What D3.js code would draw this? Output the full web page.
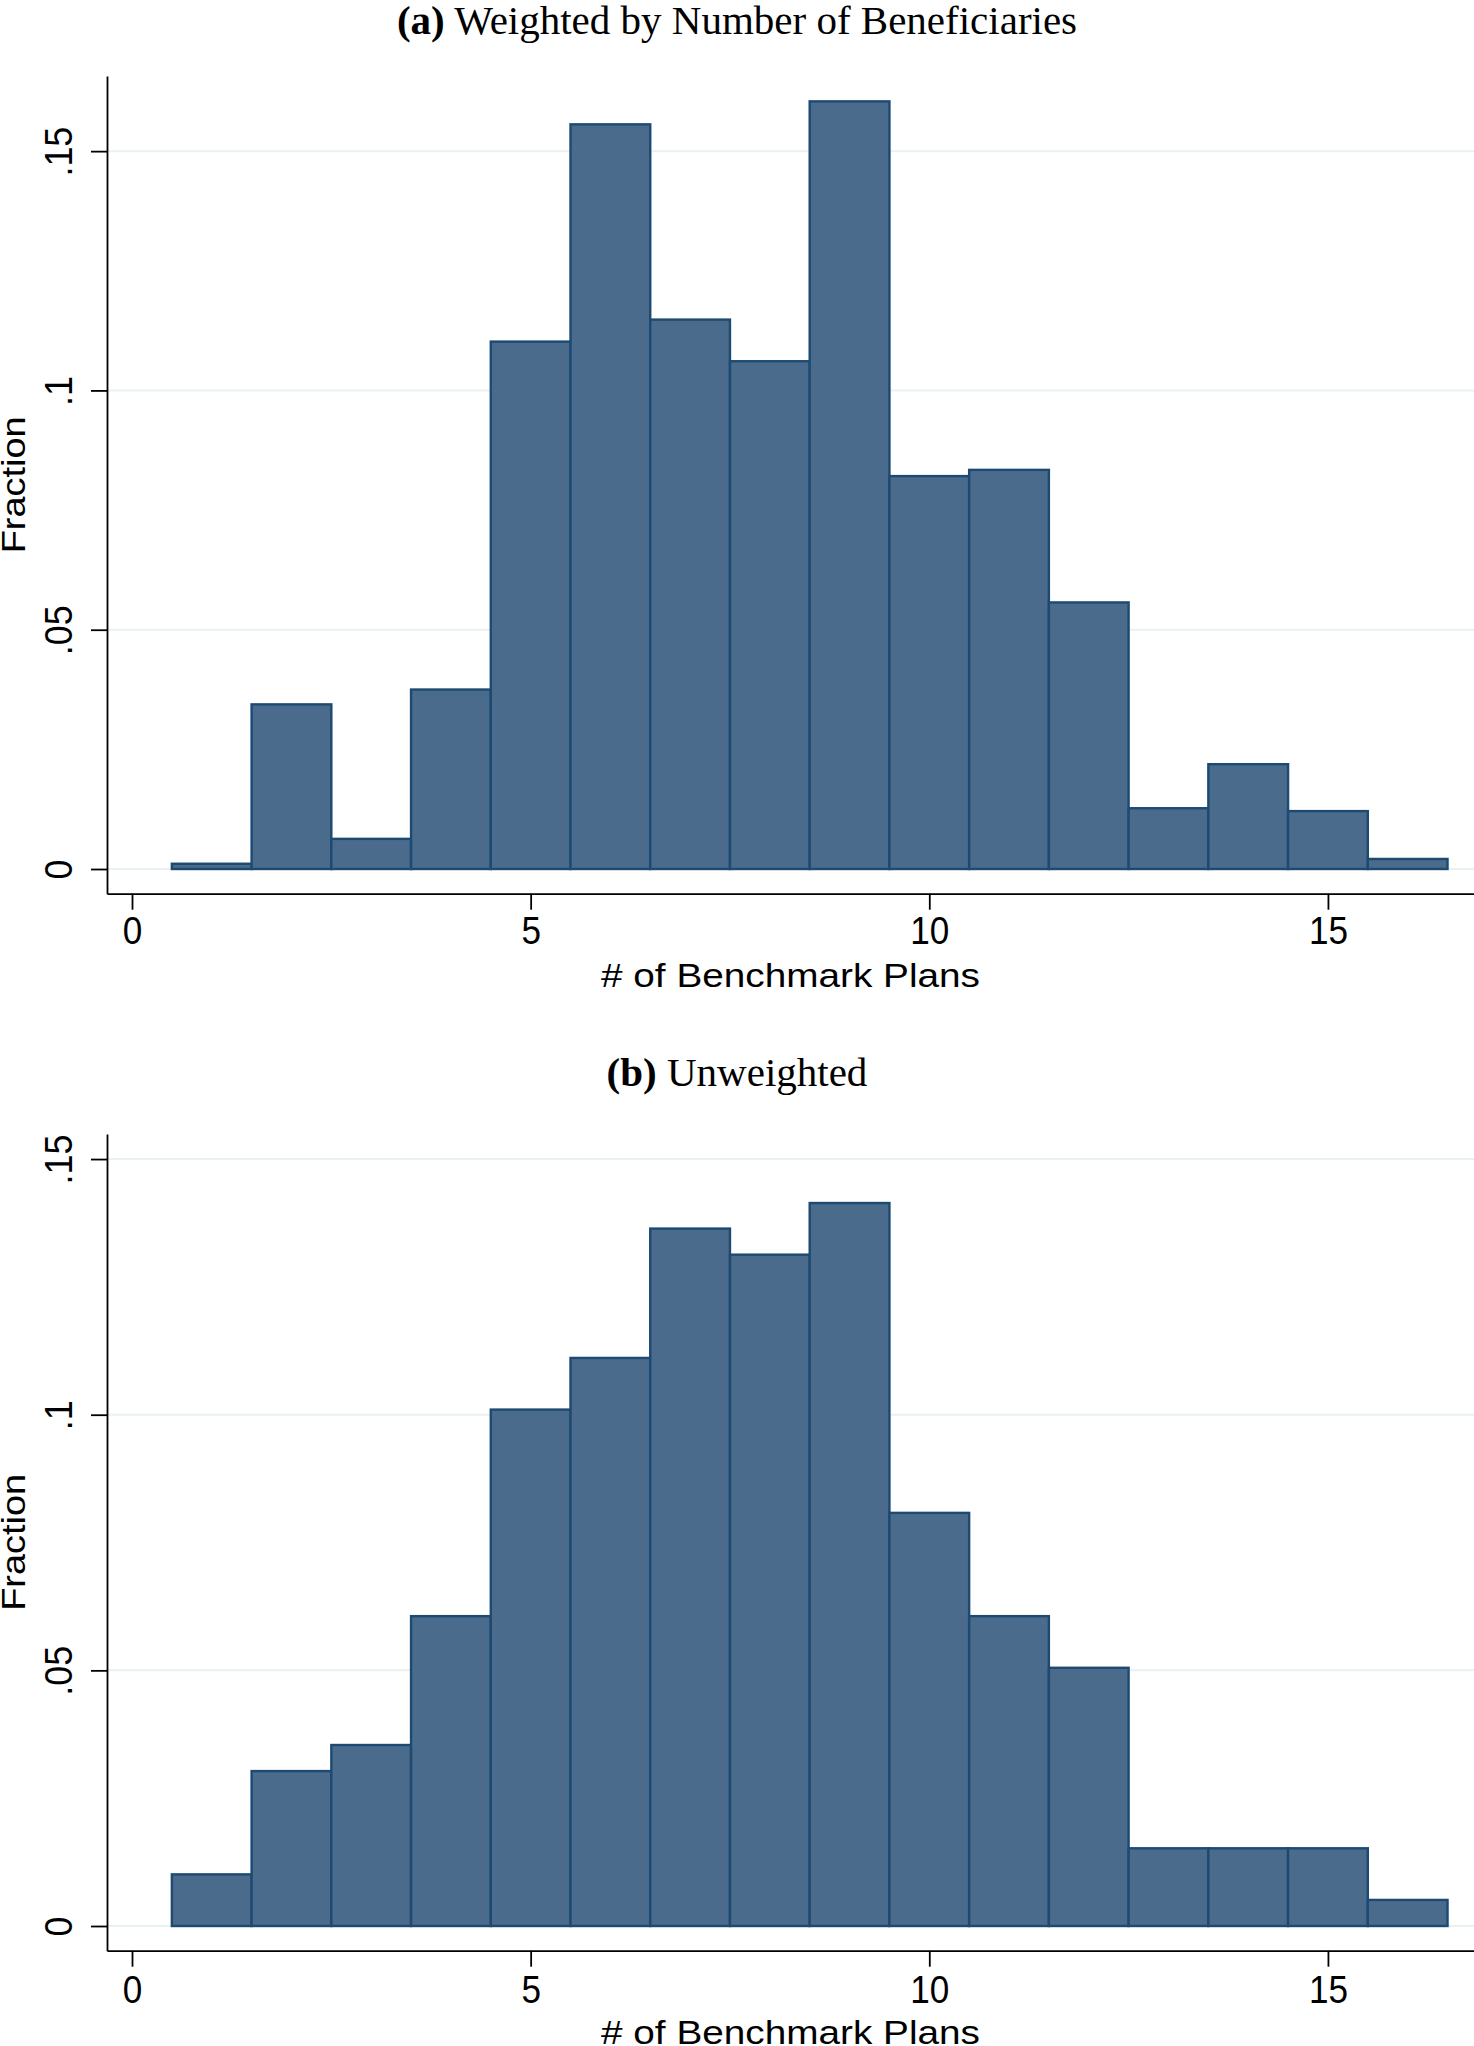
<!DOCTYPE html>
<html>
<head>
<meta charset="utf-8">
<script src="https://cdn.jsdelivr.net/npm/d3@7"></script>
<style>
  html, body { margin: 0; padding: 0; background: #fff; }
  svg { display: block; }
</style>
</head>
<body>
<svg id="chart" width="1474" height="2046"></svg>
<script>
// bins: number of benchmark plans (1..16), bin width 1
const bins = [1, 2, 3, 4, 5, 6, 7, 8, 9, 10, 11, 12, 13, 14, 15, 16];
const weightedFrac = [0.0011, 0.0344, 0.0063, 0.0375, 0.1102, 0.1556, 0.1148, 0.1061,
                      0.1604, 0.0821, 0.0834, 0.0557, 0.0127, 0.0219, 0.0121, 0.0021];
const unweightedFrac = [0.0101, 0.0303, 0.0354, 0.0606, 0.1010, 0.1111, 0.1364, 0.1313,
                        0.1414, 0.0808, 0.0606, 0.0505, 0.0152, 0.0152, 0.0152, 0.0051];
const xTicks = [0, 5, 10, 15];
const yTicks = [0, 0.05, 0.1, 0.15];
const yTickLabels = ["0", ".05", ".1", ".15"];
const panelTitles = [["(a)", " Weighted by Number of Beneficiaries"], ["(b)", " Unweighted"]];
const xTitle = "# of Benchmark Plans";
const yTitle = "Fraction";

const svg = d3.select("#chart");
const W = 1474;
const left = 107;

const fillCol = "#4a6b8b";
const lineCol = "#1d4a72";
const gridCol = "#e9f1f3";

const x = d3.scaleLinear().domain([-0.3136, 16.832]).range([left, W]);

function panel(values, title, top, bottom, yDomain, titleY, tickLabY) {
    const y = d3.scaleLinear().domain(yDomain).range([bottom, top]);
    const g = svg.append("g");

    // title (subcaption, serif)
    const t = g.append("text")
        .attr("x", W / 2)
        .attr("y", titleY)
        .attr("text-anchor", "middle")
        .style("font-family", "'Liberation Serif', 'Times New Roman', serif")
        .style("font-size", "41px")
        .style("fill", "#000");
    t.append("tspan").style("font-weight", "bold").text(title[0]);
    t.append("tspan").text(title[1]);

    // gridlines
    g.append("g").selectAll("line")
        .data(yTicks)
        .join("line")
        .attr("x1", left)
        .attr("x2", W)
        .attr("y1", d => y(d))
        .attr("y2", d => y(d))
        .attr("stroke", gridCol)
        .attr("stroke-width", 2);

    // bars
    g.append("g").selectAll("rect")
        .data(bins.map((b, i) => ({ b, v: values[i] })))
        .join("rect")
        .attr("x", d => x(d.b - 0.5))
        .attr("width", d => x(d.b + 0.5) - x(d.b - 0.5))
        .attr("y", d => y(d.v))
        .attr("height", d => y(0) - y(d.v))
        .attr("fill", fillCol)
        .attr("stroke", lineCol)
        .attr("stroke-width", 2.4);

    // y axis
    const ya = g.append("g")
        .attr("transform", `translate(${left},0)`)
        .call(d3.axisLeft(y).tickValues(yTicks).tickFormat((d, i) => yTickLabels[i])
            .tickSize(16).tickSizeOuter(0));
    ya.select(".domain").attr("stroke", "#000").attr("stroke-width", 1.8);
    ya.selectAll(".tick line").attr("stroke", "#000").attr("stroke-width", 1.8);
    ya.selectAll(".tick text")
        .attr("x", null)
        .attr("dy", null)
        .attr("text-anchor", "middle")
        .attr("transform", "translate(-35,0) rotate(-90) scale(0.92,1)")
        .style("font-family", "'Liberation Sans', Arial, sans-serif")
        .style("font-size", "39px")
        .style("fill", "#000");

    // x axis
    const xa = g.append("g")
        .attr("transform", `translate(0,${bottom})`)
        .call(d3.axisBottom(x).tickValues(xTicks).tickFormat(d3.format("d"))
            .tickSize(16).tickSizeOuter(0));
    xa.select(".domain").attr("stroke", "#000").attr("stroke-width", 1.8);
    xa.selectAll(".tick line").attr("stroke", "#000").attr("stroke-width", 1.8);
    xa.selectAll(".tick text")
        .attr("y", tickLabY)
        .attr("dy", null)
        .attr("transform", "scale(0.9,1)")
        .style("font-family", "'Liberation Sans', Arial, sans-serif")
        .style("font-size", "39px")
        .style("fill", "#000");

    // axis titles
    g.append("text")
        .attr("transform", `translate(${(left + W) / 2},${bottom + 93}) scale(1.14,1)`)
        .attr("text-anchor", "middle")
        .style("font-family", "'Liberation Sans', Arial, sans-serif")
        .style("font-size", "34px")
        .style("fill", "#000")
        .text(xTitle);

    g.append("text")
        .attr("transform", `translate(25,${(top + bottom) / 2}) rotate(-90) scale(1.15,1)`)
        .attr("text-anchor", "middle")
        .style("font-family", "'Liberation Sans', Arial, sans-serif")
        .style("font-size", "33px")
        .style("fill", "#000")
        .text(yTitle);
}

panel(weightedFrac, panelTitles[0], 76, 893.7, [-0.00516, 0.1657], 34, 50);
panel(unweightedFrac, panelTitles[1], 1134, 1950.7, [-0.00483, 0.1549], 1086, 52);
</script>
</body>
</html>
